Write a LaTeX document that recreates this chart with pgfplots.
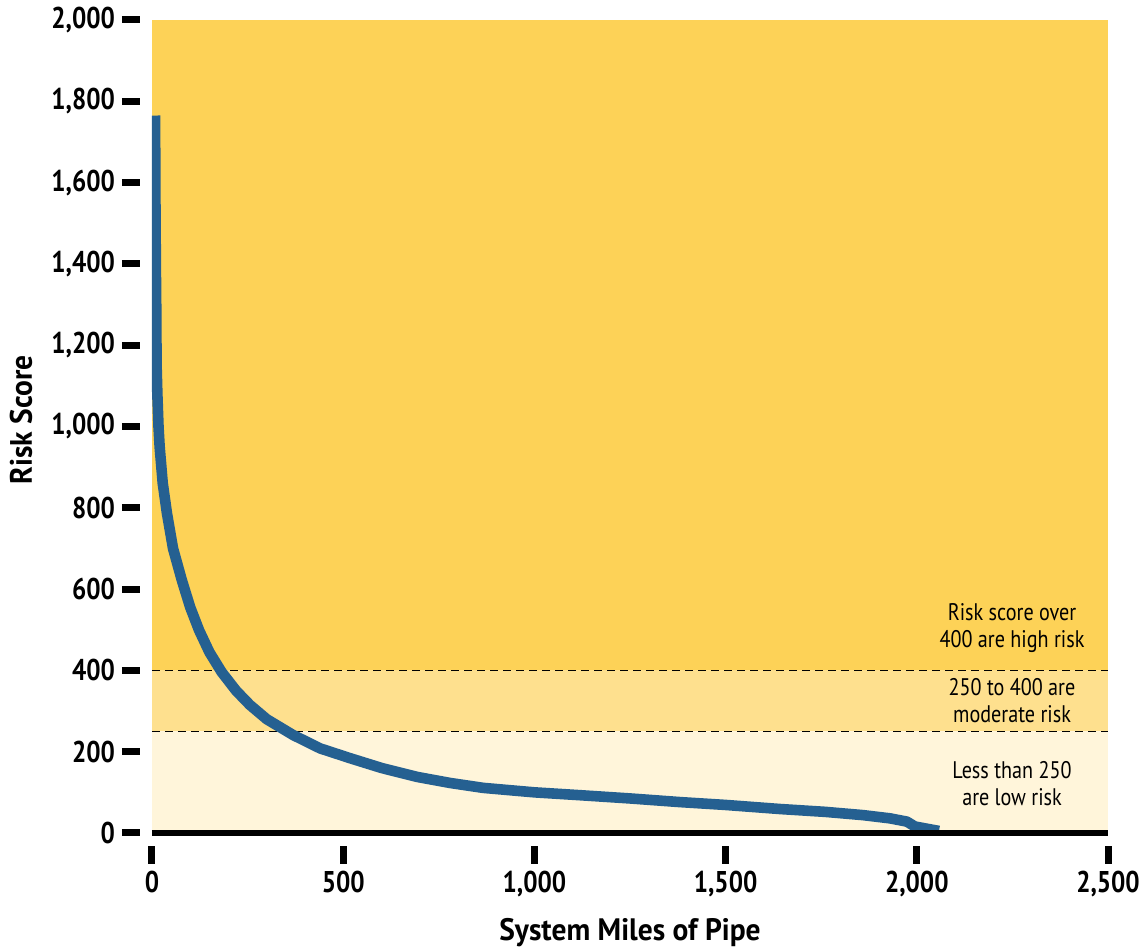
\documentclass[border=0pt]{standalone}
\usepackage{fontspec}
\setmainfont{PT Sans}[FakeStretch=0.84]
\newfontfamily\labfont{PT Sans Bold}[FakeStretch=0.95]
\usepackage{pgfplots}
\pgfplotsset{compat=1.18}
\definecolor{high}{RGB}{253,210,87}
\definecolor{moder}{RGB}{254,224,142}
\definecolor{low}{RGB}{255,245,218}
\definecolor{curve}{RGB}{37,96,145}
\begin{document}
\begin{tikzpicture}
\begin{axis}[
  scale only axis, width=478pt, height=406.5pt,
  xmin=0, xmax=2500, ymin=0, ymax=2000,
  axis on top=true,
  axis x line*=bottom, axis y line*=left,
  y axis line style={draw=none},
  x axis line style={line width=3pt, -},
  xtick={0,500,1000,1500,2000,2500},
  ytick={0,200,400,600,800,1000,1200,1400,1600,1800,2000},
  tick align=outside, major tick length=9pt,
  xtick style={line width=3.5pt, yshift=-6.5pt, black},
  ytick style={line width=3.5pt, xshift=-6pt, black},
  /pgf/number format/.cd, 1000 sep={,}, assume math mode=true, /pgfplots/.cd,
  ticklabel style={font=\bfseries\fontsize{15}{15}\selectfont},
  yticklabel style={xshift=-6pt},
  xticklabel style={yshift=-6.5pt},
  xlabel={System Miles of Pipe},
  ylabel={Risk Score},
  label style={font=\labfont\fontsize{15.5}{15.5}\selectfont},
  xlabel style={at={(axis description cs:0.5,-0.123)}, anchor=center},
  ylabel style={at={(axis description cs:-0.137,0.508)}, anchor=center},
]
\fill[high] (axis cs:0,400) rectangle (axis cs:2500,2000);
\fill[moder] (axis cs:0,250) rectangle (axis cs:2500,400);
\fill[low] (axis cs:0,0) rectangle (axis cs:2500,250);
\draw[black, line width=0.7pt, dash pattern=on 4pt off 2.5pt] (axis cs:0,400) -- (axis cs:2500,400);
\draw[black, line width=0.7pt, dash pattern=on 4pt off 2.5pt] (axis cs:0,250) -- (axis cs:2500,250);
\addplot[curve, line width=5.3pt, line cap=butt, line join=round] coordinates {
(8,1765) (9,1550) (10,1400) (11,1300) (12,1150) (14,1080) (17,1000) (20,950)
(28,861) (39,787) (55,700) (78,622) (100,555) (123,499) (150,445) (182,396)
(220,350) (256,315) (300,280) (369,241) (440,208) (518,184) (600,160) (693,138)
(780,123) (866,111) (1000,100) (1119,93) (1250,85) (1381,76) (1500,69) (1642,59)
(1760,52) (1859,44) (1930,36) (1974,28) (1995,16) (2058,5)
};
\node[font=\fontsize{12}{13.5}\selectfont, align=center] at (axis cs:2249,503) {Risk score over\\400 are high risk};
\node[font=\fontsize{12}{13.5}\selectfont, align=center] at (axis cs:2249,325) {250 to 400 are\\moderate risk};
\node[font=\fontsize{12}{13.5}\selectfont, align=center] at (axis cs:2249,122) {Less than 250\\are low risk};
\end{axis}
\pgfresetboundingbox
\path[use as bounding box] ([shift={(-76pt,-58pt)}]current axis.south west) rectangle ([shift={(17.5pt,10pt)}]current axis.north east);
\end{tikzpicture}
\end{document}
